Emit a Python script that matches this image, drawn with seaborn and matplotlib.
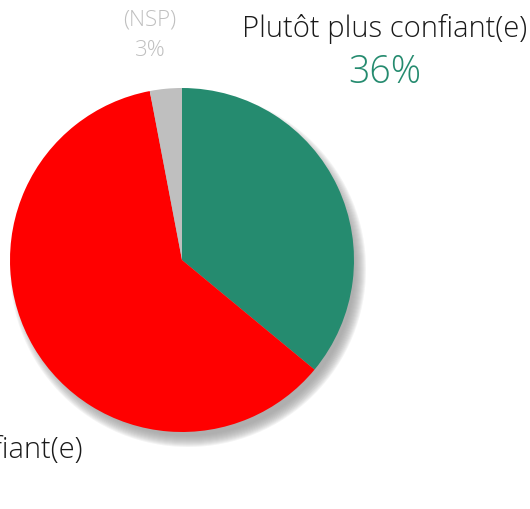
import matplotlib.pyplot as plt
import seaborn as sns
from matplotlib.patches import Circle

sns.set_theme(style="white")
plt.rcParams['font.family'] = ['Open Sans', 'DejaVu Sans']

labels = ["Plutôt plus confiant(e)", "Plutôt moins confiant(e)", "(NSP)"]
values = [36, 61, 3]
colors = ["#258B6F", "#FF0000", "#BFBFBF"]

fig = plt.figure(figsize=(5.3, 5.09), dpi=100)
ax = fig.add_axes([0, 0, 1, 1])

cx, cy, r = 182, 249, 172

# soft drop shadow, down and to the right
for i in range(12):
    ax.add_patch(Circle((cx + 6, cy - 9), r - 5 + i, color="#9a9a9a",
                        alpha=0.11, lw=0, zorder=1))

ax.pie(values, colors=colors, startangle=90, counterclock=False,
       center=(cx, cy), radius=r, wedgeprops={"linewidth": 0, "zorder": 2},
       frame=True)
ax.set_xlim(0, 530)
ax.set_ylim(0, 509)
ax.set_aspect("equal")
ax.axis("off")

# labels
ax.text(385, 480, labels[0], ha="center", va="center", fontsize=21,
        color="#1a1a1a", fontweight="light")
ax.text(385, 436, f"{values[0]}%", ha="center", va="center", fontsize=27,
        color=colors[0], fontweight="light")
ax.text(150, 489, labels[2], ha="center", va="center", fontsize=16,
        color=colors[2], fontweight="light")
ax.text(150, 459, f"{values[2]}%", ha="center", va="center", fontsize=16,
        color=colors[2], fontweight="light")
ax.text(82, 59, labels[1], ha="right", va="center", fontsize=21,
        color="#1a1a1a", fontweight="light")

fig.savefig("out.png", dpi=100)
